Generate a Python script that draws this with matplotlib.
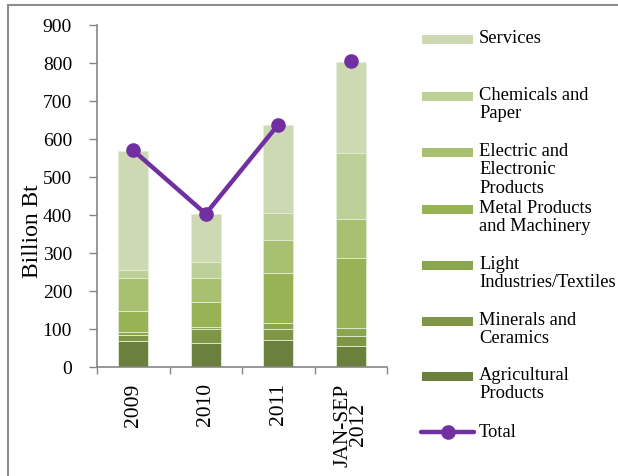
import matplotlib
matplotlib.use("Agg")
import matplotlib.pyplot as plt
from matplotlib.patches import Rectangle
from matplotlib.lines import Line2D
import numpy as np

plt.rcParams['font.family'] = ['Liberation Serif', 'DejaVu Serif']

periods = ["2009", "2010", "2011", "JAN-SEP\n2012"]
sectors = ["Agricultural\nProducts", "Minerals and\nCeramics", "Light\nIndustries/Textiles",
           "Metal Products\nand Machinery", "Electric and\nElectronic\nProducts",
           "Chemicals and\nPaper", "Services"]
agricultural = [68, 63, 70, 56]
minerals = [17, 37, 30, 26]
light_industries = [8, 4, 15, 20]
metal_machinery = [55, 66, 132, 186]
electric_electronic = [85, 64, 86, 101]
chemicals_paper = [23, 42, 71, 174]
services = [313, 127, 233, 239]
total = [570, 403, 638, 804]

series = [agricultural, minerals, light_industries, metal_machinery,
          electric_electronic, chemicals_paper, services]
colors = ["#6a803c", "#7e9646", "#8aa64f", "#97b356", "#a8c170", "#bcd098", "#ccd9b2"]
purple = "#7030a0"

W, H = 618, 477
fig = plt.figure(figsize=(W / 100, H / 100), dpi=100)
ax = fig.add_axes([97 / W, 1 - 368 / H, 290 / W, 342 / H])

x = np.arange(len(periods))
bottom = np.zeros(len(periods))
for vals, c in zip(series, colors):
    ax.bar(x, vals, width=0.41, bottom=bottom, color=c, edgecolor="#e4ecd6", linewidth=0.6)
    bottom += np.array(vals)

# Total line only joins the first three periods
ax.plot(x[:3], total[:3], color=purple, linewidth=3.2, zorder=5)
ax.plot(x, total, linestyle="none", marker="o", markersize=9.5, color=purple, zorder=6)

ax.set_xlim(-0.5, 3.5)
ax.set_ylim(0, 900)
ax.set_yticks(range(0, 901, 100))
ax.set_xticks(x)
ax.set_xticklabels(periods, rotation=90, va="top", ha="center", fontsize=15.5, linespacing=0.8)
ax.set_xticks(np.arange(-0.5, 3.6, 1), minor=True)
ax.tick_params(axis="x", which="major", length=0, pad=11)
ax.tick_params(axis="x", which="minor", length=5, color="#868686", width=1)
ax.tick_params(axis="y", length=6, color="#868686", width=1, labelsize=14, pad=12)
for s in ["top", "right"]:
    ax.spines[s].set_visible(False)
for s in ["left", "bottom"]:
    ax.spines[s].set_color("#868686")
    ax.spines[s].set_linewidth(1.2)
ax.set_ylabel("Billion Bt", fontsize=17)
ax.yaxis.set_label_coords(-0.185, 0.40)

# Legend drawn in figure pixel space
def fx(px):
    return px / W

def fy(py):
    return 1 - py / H

legend_rows = [("Services", colors[6], 40),
               ("Chemicals and\nPaper", colors[5], 97),
               ("Electric and\nElectronic\nProducts", colors[4], 153),
               ("Metal Products\nand Machinery", colors[3], 210),
               ("Light\nIndustries/Textiles", colors[2], 266),
               ("Minerals and\nCeramics", colors[1], 322),
               ("Agricultural\nProducts", colors[0], 377)]
for label, c, ypix in legend_rows:
    fig.add_artist(Rectangle((fx(422), fy(ypix + 4.5)), 51 / W, 9 / H,
                             transform=fig.transFigure, facecolor=c, edgecolor="none"))
    fig.text(fx(479), fy(ypix - 10), label, fontsize=13.3, va="top", ha="left",
             linespacing=1.1)

fig.add_artist(Line2D([fx(421), fx(474)], [fy(433), fy(433)], color=purple,
                      linewidth=3.2, transform=fig.transFigure, solid_capstyle="round"))
fig.add_artist(Line2D([fx(448)], [fy(433)], marker="o", markersize=9.5, color=purple,
                      transform=fig.transFigure))
fig.text(fx(479), fy(433), "Total", fontsize=13.3, va="center", ha="left")

# Outer frame (top and left edges)
fig.add_artist(Line2D([fx(8), fx(8)], [fy(6), 0], color="#8c8c8c", linewidth=1.5,
                      transform=fig.transFigure))
fig.add_artist(Line2D([fx(8), 1], [fy(6), fy(6)], color="#8c8c8c", linewidth=1.5,
                      transform=fig.transFigure))

fig.savefig("out.png", dpi=100)
